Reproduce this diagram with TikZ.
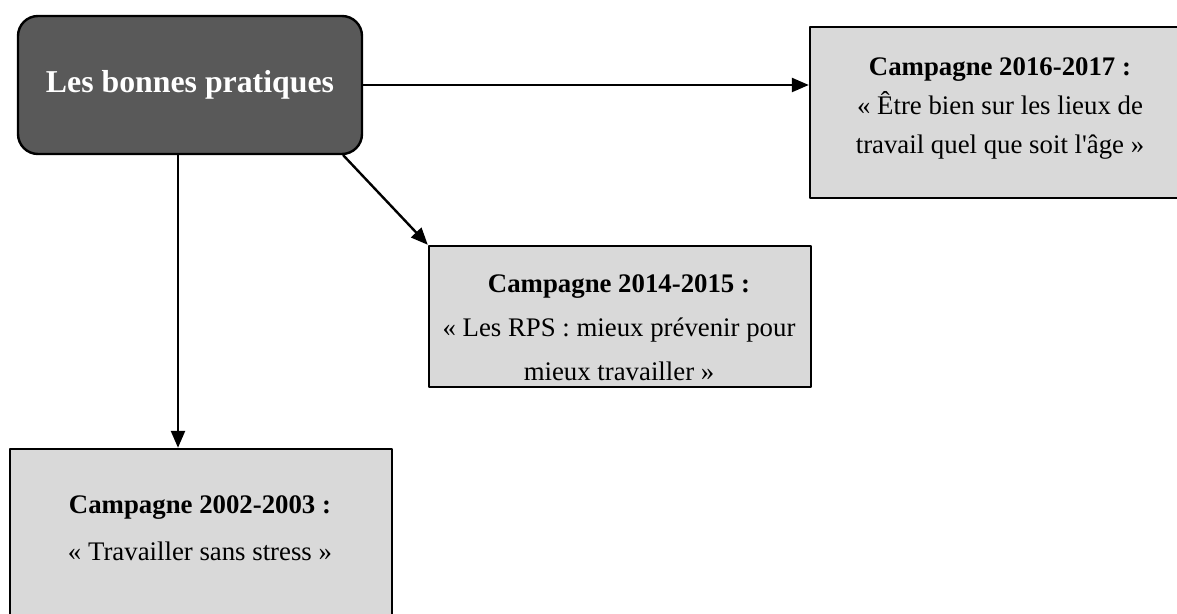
\documentclass[tikz,border=0pt]{standalone}
\usepackage{fontspec}
\setmainfont{Liberation Serif}
\usepackage{tikz}
\usetikzlibrary{arrows.meta}
\usetikzlibrary{positioning}
\definecolor{boxgray}{HTML}{D9D9D9}
\definecolor{darkgray}{HTML}{595959}
\tikzset{
	campbox/.style={draw=black,line width=1.2pt,fill=boxgray,rectangle,inner sep=0pt},
	campbox text/.style={align=center,inner sep=0pt,font=\fontsize{13.4}{19.5}\selectfont},
	mainbox/.style={draw=black,line width=1.2pt,fill=darkgray,rounded corners=10pt,inner sep=0pt,
		text=white,font=\fontsize{15.9}{19}\selectfont\bfseries},
	link/.style={line width=1.2pt,->}
}
\begin{document}
\begin{tikzpicture}[line cap=round,line join=round,>={Triangle[length=8.5pt,width=7pt]},x=0.5pt,y=-0.5pt]
		\useasboundingbox (0,0) rectangle (1177,614);
		\clip (0,0) rectangle (1177,614);
		% boites
		\node [mainbox,minimum width=172pt,minimum height=69pt] (main) at (190,85) {Les bonnes pratiques};
		\node [campbox,minimum width=185pt,minimum height=85.5pt] (c2016) at (995,112.5) {};
		\node [campbox,minimum width=191pt,minimum height=70.5pt] (c2014) at (620,316.5) {};
		\node [campbox,minimum width=191pt,minimum height=83.5pt] (c2002) at (201,532.5) {};
		% textes
		\node [campbox text] (t2016) at (1000,108) {\textbf{Campagne 2016-2017 :}\\« Être bien sur les lieux de\\travail quel que soit l\textquotesingle âge »};
		\node [campbox text,font=\fontsize{13.4}{22}\selectfont] (t2014) at (619,328) {\textbf{Campagne 2014-2015 :}\\« Les RPS : mieux prévenir pour\\mieux travailler »};
		\node [campbox text,font=\fontsize{13.4}{23.5}\selectfont] (t2002) at (200,528) {\textbf{Campagne 2002-2003 :}\\« Travailler sans stress »};
		% fleches
		\draw [link] (main.east) -- (main.east -| c2016.west);
		\draw [link] ([xshift=-10pt]main.south east) -- (c2014.north west);
		\draw [link] ([xshift=-6pt]main.south) -- ([xshift=-6pt]main.south |- c2002.north);
\end{tikzpicture}
\end{document}
